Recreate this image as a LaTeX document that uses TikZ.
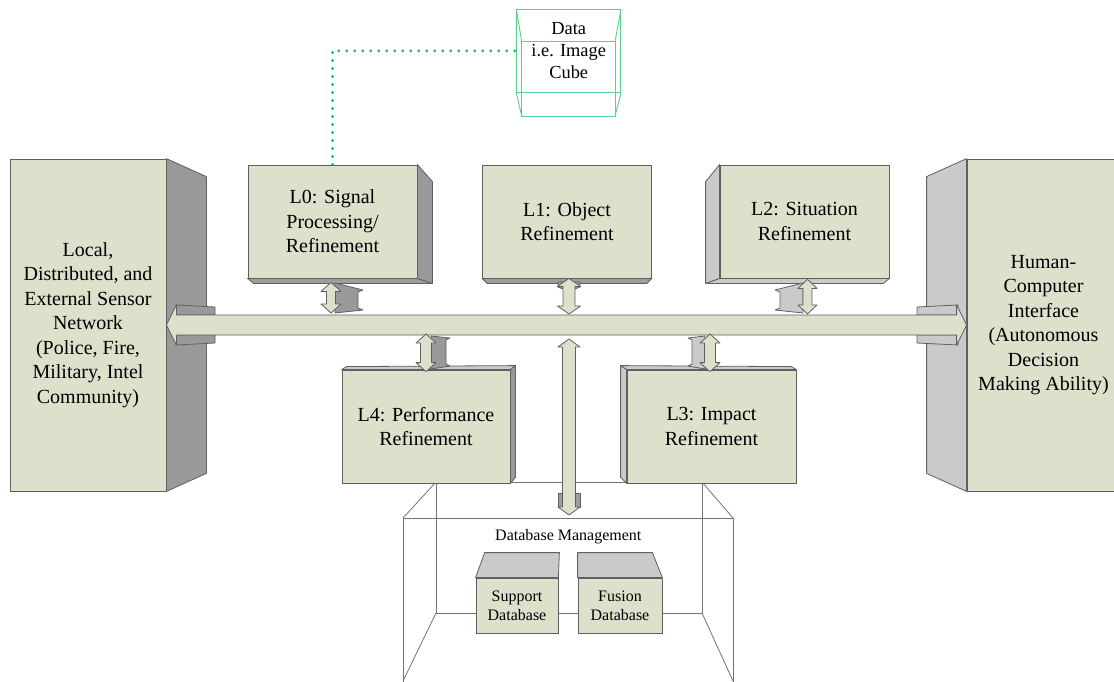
\documentclass[tikz,border=0pt]{standalone}
\usepackage{fontspec}
\setmainfont{Liberation Serif}
\newfontfamily\diagserif{Liberation Serif}
\usetikzlibrary{calc}
\definecolor{olive}{HTML}{DDE0CB}
\definecolor{sidedark}{HTML}{999999}
\definecolor{sidelight}{HTML}{CACACA}
\definecolor{edgec}{HTML}{606060}
\definecolor{cubegreen}{HTML}{55D08F}
\definecolor{dotgreen}{HTML}{00B85C}
\newcommand\vdarrow[5]{%
 \filldraw[arrowface] (#1) -- ($(#1)+(#4,#5)$) -- ($(#1)+(#3,#5)$) -- ($(#2)+(#3,-#5)$) -- ($(#2)+(#4,-#5)$) -- (#2) -- ($(#2)+(-#4,-#5)$) -- ($(#2)+(-#3,-#5)$) -- ($(#1)+(-#3,#5)$) -- ($(#1)+(-#4,#5)$) -- cycle;}
\newcommand\hdarrow[5]{%
 \filldraw[arrowface] (#1) -- ($(#1)+(#5,-#4)$) -- ($(#1)+(#5,-#3)$) -- ($(#2)+(-#5,-#3)$) -- ($(#2)+(-#5,-#4)$) -- (#2) -- ($(#2)+(-#5,#4)$) -- ($(#2)+(-#5,#3)$) -- ($(#1)+(#5,#3)$) -- ($(#1)+(#5,#4)$) -- cycle;}
\begin{document}
\begin{tikzpicture}[x=1pt,y=-1pt,
 front/.style={draw=edgec, fill=olive, line width=0.8pt, inner sep=0pt, align=center, font=\diagserif\fontsize{20}{24.5}\selectfont},
 smallbox/.style={front, font=\diagserif\fontsize{16}{19}\selectfont},
 darkside/.style={draw=edgec, fill=sidedark, line width=0.8pt, line join=round},
 lightside/.style={draw=edgec, fill=sidelight, line width=0.8pt, line join=round},
 midside/.style={draw=edgec, fill=black!38, line width=0.8pt, line join=round},
 arrowface/.style={draw=edgec, fill=olive, line width=0.8pt, line join=round},
 wire/.style={draw=black!55, line width=0.8pt},
 cubeline/.style={draw=cubegreen, line width=0.9pt},
 dotline/.style={draw=dotgreen, line width=3pt, line cap=round, dash pattern=on 0pt off 8pt},
 plainlabel/.style={inner sep=0pt, align=center},
]
\useasboundingbox (0,0) rectangle (1114,682);
\clip (0,0) rectangle (1114,682);

% ---------- database management wireframe ----------
\coordinate (dbBL) at (436,482);
\coordinate (dbBR) at (702,482);
\coordinate (dbBLb) at (436,613);
\coordinate (dbBRb) at (702,613);
\coordinate (dbFL) at (403,518);
\coordinate (dbFR) at (733,518);
\coordinate (dbFLb) at (403,685);
\coordinate (dbFRb) at (733,685);
\draw[wire] (dbBL) rectangle (dbBRb);
\draw[wire] (dbFLb) -- (dbFL) -- (dbFR) -- (dbFRb);
\draw[wire] (dbBL) -- (dbFL) (dbBR) -- (dbFR);
\draw[wire] (dbBLb) -- ($(dbBLb)+(-33,68)$) (dbBRb) -- ($(dbBRb)+(31,68)$);

% ---------- big side boxes ----------
\node[front, minimum width=156pt, minimum height=332pt] (sens) at (88,325)
 {Local,\\Distributed, and\\External Sensor\\Network\\(Police, Fire,\\Military, Intel\\Community)};
\filldraw[darkside] (sens.north east) -- ($(sens.north east)+(40,18)$) -- ($(sens.south east)+(40,-18)$) -- (sens.south east) -- cycle;

\node[front, minimum width=153pt, minimum height=332pt] (hci) at (1043.5,325)
 {Human-\\Computer\\Interface\\(Autonomous\\Decision\\Making Ability)};
\filldraw[lightside] (hci.north west) -- ($(hci.north west)+(-40,18)$) -- ($(hci.south west)+(-40,-18)$) -- (hci.south west) -- cycle;

% ---------- top row ----------
\node[front, minimum width=169pt, minimum height=113pt] (L0) at (332.5,221.5) {L0: Signal\\Processing/\\Refinement};
\filldraw[midside] (L0.south west) -- (L0.south east) -- ($(L0.south east)+(15,5)$) -- ($(L0.south west)+(6,5)$) -- cycle;
\filldraw[darkside] (L0.north east) -- ($(L0.north east)+(15,17)$) -- ($(L0.south east)+(15,5)$) -- (L0.south east) -- cycle;

\node[front, minimum width=169pt, minimum height=113pt] (L1) at (567,221.5) {L1: Object\\Refinement};
\filldraw[midside] (L1.south west) -- (L1.south east) -- ($(L1.south east)+(-5,5)$) -- ($(L1.south west)+(5,5)$) -- cycle;

\node[front, minimum width=169pt, minimum height=113pt] (L2) at (804.5,221.5) {L2: Situation\\Refinement};
\filldraw[lightside] (L2.south west) -- (L2.south east) -- ($(L2.south east)+(-6,5)$) -- ($(L2.south west)+(-14,5)$) -- cycle;
\filldraw[lightside] (L2.north west) -- ($(L2.north west)+(-14,17)$) -- ($(L2.south west)+(-14,5)$) -- (L2.south west) -- cycle;

% ---------- bottom row ----------
\node[front, minimum width=168pt, minimum height=113pt] (L4) at (426,426.5) {L4: Performance\\Refinement};
\filldraw[lightside] (L4.north west) -- ($(L4.north west)+(5,-3)$) -- ($(L4.north east)+(5,-4)$) -- (L4.north east) -- cycle;
\filldraw[darkside] (L4.north east) -- ($(L4.north east)+(5,-4)$) -- ($(L4.south east)+(5,-6)$) -- (L4.south east) -- cycle;

\node[front, minimum width=169pt, minimum height=113pt] (L3) at (711.5,426.5) {L3: Impact\\Refinement};
\filldraw[lightside] (L3.north east) -- ($(L3.north east)+(-5,-3)$) -- ($(L3.north west)+(-6,-4)$) -- (L3.north west) -- cycle;
\filldraw[lightside] (L3.north west) -- ($(L3.north west)+(-6,-4)$) -- ($(L3.south west)+(-6,-6)$) -- (L3.south west) -- cycle;

% ---------- bus (horizontal double arrow) ----------
\coordinate (busL) at (sens.east);
\coordinate (busR) at (hci.west);
\filldraw[darkside] (176,305) -- (215,307) -- (215,315) -- (176,315) -- cycle;
\filldraw[darkside] (176,345) -- (215,343) -- (215,335) -- (176,335) -- cycle;
\filldraw[lightside] (958,305) -- (917,307) -- (917,315) -- (958,315) -- cycle;
\filldraw[lightside] (958,345) -- (917,343) -- (917,335) -- (958,335) -- cycle;
\hdarrow{busL}{busR}{10}{20}{10}

% ---------- vertical connectors ----------
% L0 <-> bus
\coordinate (c0t) at ($(L0.south)+(-1.5,4)$);
\coordinate (c0b) at (331,313);
\filldraw[darkside] (335,283) -- (363,290) -- (358,292) -- (358,308) -- (363,310) -- (335,313) -- cycle;
\vdarrow{c0t}{c0b}{4.5}{10}{9}

% L1 <-> bus
\coordinate (c1t) at ($(L1.south)+(2,0)$);
\coordinate (c1b) at (569,314);
\filldraw[midside] (558,282) -- (563,282) -- (563,289) -- (558,287) -- cycle;
\filldraw[midside] (575,282) -- (580,282) -- (580,287) -- (575,289) -- cycle;
\vdarrow{c1t}{c1b}{6}{11.5}{8}

% L2 <-> bus
\coordinate (c2t) at ($(L2.south)+(3,1)$);
\coordinate (c2b) at (807.5,314);
\filldraw[lightside] (803,283) -- (775,290) -- (780,292) -- (780,308) -- (775,310) -- (803,313) -- cycle;
\vdarrow{c2t}{c2b}{4.5}{9.5}{9}

% bus <-> L4
\coordinate (c4t) at (426,334);
\coordinate (c4b) at ($(L4.north)+(0,2)$);
\filldraw[darkside] (431,336) -- (450,338) -- (446,340) -- (446,364) -- (450,366) -- (431,369) -- cycle;
\vdarrow{c4t}{c4b}{5.5}{10}{9}

% bus <-> L3
\coordinate (c3t) at (710,334);
\coordinate (c3b) at ($(L3.north)+(-1.5,2)$);
\filldraw[lightside] (705,336) -- (688,338) -- (692,340) -- (692,364) -- (688,366) -- (705,369) -- cycle;
\vdarrow{c3t}{c3b}{5.5}{10}{9}

% bus <-> database
\coordinate (cdt) at (569,339);
\coordinate (cdb) at (569,515);
\filldraw[midside] (558,493) -- (563,493) -- (563,507) -- (558,507) -- cycle;
\filldraw[midside] (575,493) -- (580,493) -- (580,507) -- (575,507) -- cycle;
\vdarrow{cdt}{cdb}{6.5}{11}{8}

% ---------- database contents ----------
\node[plainlabel, font=\diagserif\fontsize{16}{19}\selectfont] (dbm) at (568.3,536.7) {Database Management};
\node[smallbox, minimum width=82pt, minimum height=55pt] (sup) at (517,605.5) {Support\\Database};
\filldraw[lightside] (sup.north west) -- ($(sup.north west)+(9,-25)$) -- ($(sup.north east)+(1,-25)$) -- (sup.north east) -- cycle;
\node[smallbox, minimum width=84pt, minimum height=55pt] (fus) at (620,605.5) {Fusion\\Database};
\filldraw[lightside] (fus.north west) -- ($(fus.north west)+(0,-25)$) -- ($(fus.north east)+(-10,-25)$) -- (fus.north east) -- cycle;

% ---------- data cube ----------
\draw[cubeline] (521.7,41.7) rectangle (615,116);
\node[cubeline, draw, inner sep=0pt, minimum width=104pt, minimum height=83pt, align=center,
 font=\diagserif\fontsize{18.4}{22}\selectfont] (data) at (568.7,50.8) {Data\\i.e. Image\\Cube};
\draw[cubeline] (data.north west) -- (521.7,41.7) (data.north east) -- (615,41.7)
 (data.south west) -- (521.7,116) (data.south east) -- (615,116);

% ---------- dotted link ----------
\draw[dotline] (L0.north) |- (data.west);
\end{tikzpicture}
\end{document}
